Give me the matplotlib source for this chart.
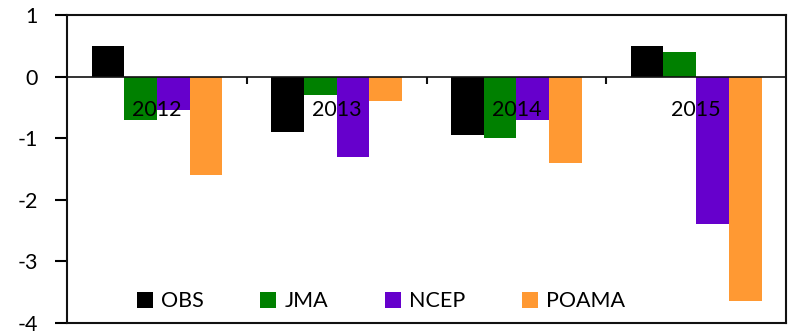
import matplotlib
matplotlib.use("Agg")
import matplotlib.pyplot as plt
import numpy as np

plt.rcParams['font.family'] = ['Lato', 'DejaVu Sans']

years = ["2012", "2013", "2014", "2015"]
series_names = ["OBS", "JMA", "NCEP", "POAMA"]
obs = [0.5, -0.9, -0.95, 0.5]
jma = [-0.7, -0.3, -1.0, 0.4]
ncep = [-0.55, -1.3, -0.7, -2.4]
poama = [-1.6, -0.4, -1.4, -3.65]
colors = ["#000000", "#008000", "#6600CC", "#FF9933"]

fig = plt.figure(figsize=(7.91, 3.32), dpi=100)
ax = fig.add_axes([0.0847, 0.0271, 0.9090, 0.9277])

x = np.arange(len(years))
n = len(series_names)
gap = 1.5
w = 1.0 / (n + gap)
for i, (name, vals) in enumerate(zip(series_names, [obs, jma, ncep, poama])):
    offs = (i - (n - 1) / 2) * w
    ax.bar(x + offs, vals, width=w, color=colors[i], label=name, zorder=2,
           edgecolor='none')

ax.set_xlim(-0.5, len(years) - 0.5)
ax.set_ylim(-4, 1)
ax.set_yticks([1, 0, -1, -2, -3, -4])
ax.set_yticklabels(["1", "0", "-1", "-2", "-3", "-4"])
ax.tick_params(axis='y', direction='out', length=9, width=1.5, pad=12,
               labelsize=15.5)
ax.set_xticks([])
for s in ax.spines.values():
    s.set_linewidth(1.5)
    s.set_color('#111111')

# category axis crossing at zero
ax.axhline(0, color='#111111', lw=1.2, zorder=3)
for b in x[:-1] + 0.5:
    ax.plot([b, b], [0, -0.12], color='#111111', lw=1.5, zorder=3,
            solid_capstyle='butt')
for xi, yr in zip(x, years):
    ax.text(xi, -0.55, yr, ha='center', va='center', fontsize=15.5, zorder=5)

leg = ax.legend(loc='lower left', bbox_to_anchor=(0.085, 0.01), ncol=4,
                frameon=False, fontsize=15.5, handlelength=0.75,
                handleheight=0.75, handletextpad=0.4, columnspacing=2.6,
                borderaxespad=0)

fig.savefig("out.png", dpi=100)
